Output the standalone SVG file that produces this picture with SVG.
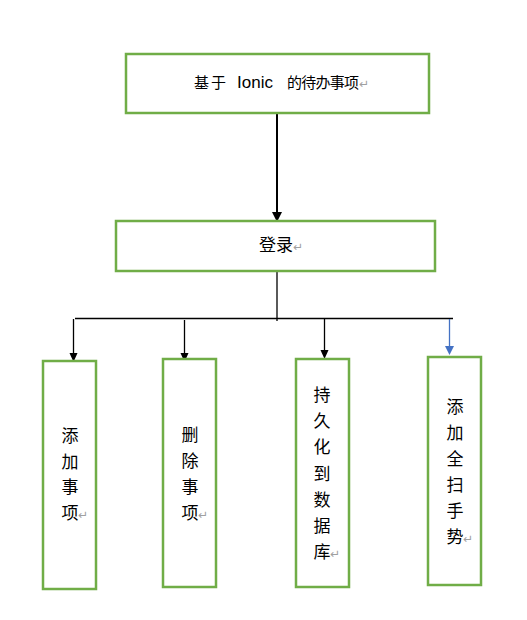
<svg xmlns="http://www.w3.org/2000/svg" width="527" height="620" viewBox="0 0 527 620">
<style>
.box{fill:#fff;stroke:#70AD47;stroke-width:2.5}
.t{font-family:"Noto Sans CJK SC","Liberation Sans",sans-serif;fill:#000}
.v{font-size:17px;text-anchor:middle}
.ret{font-family:"DejaVu Sans",sans-serif;font-size:12px;fill:#a0a0a0}
.ln{stroke:#000;stroke-width:1.3;fill:none}
</style>
<rect width="527" height="620" fill="#fff"/>
<g id="connectors">
<line class="ln" x1="277" y1="113" x2="277" y2="213" style="stroke-width:2"/>
<path d="M272,212 L282,212 L277,222 Z" fill="#000"/>
<line class="ln" x1="277" y1="271" x2="277" y2="321"/>
<line class="ln" x1="75" y1="318.5" x2="453" y2="318.5"/>
<line class="ln" x1="73.5" y1="319" x2="73.5" y2="354"/>
<path d="M69.5,353 L77.5,353 L73.5,362 Z" fill="#000"/>
<line class="ln" x1="184.5" y1="320" x2="184.5" y2="354"/>
<path d="M180.5,353 L188.5,353 L184.5,362 Z" fill="#000"/>
<line class="ln" x1="324.5" y1="319" x2="324.5" y2="351"/>
<path d="M320.5,350 L328.5,350 L324.5,359 Z" fill="#000"/>
<line x1="449.5" y1="319" x2="449.5" y2="347" stroke="#4472C4" stroke-width="1.3"/>
<path d="M445,346 L454,346 L449.5,355 Z" fill="#4472C4"/>
</g>
<g id="n-top">
<rect class="box" x="126" y="54" width="303" height="59"/>
<text class="t" y="88" font-size="15"><tspan x="194" textLength="32">基于</tspan><tspan x="237" font-family="Liberation Sans" font-size="17">Ionic</tspan><tspan x="287" textLength="72">的待办事项</tspan></text>
<text class="ret" x="359" y="88">↵</text>
</g>
<g id="n-login">
<rect class="box" x="116" y="221" width="319" height="50"/>
<text class="t" x="259" y="251" font-size="17">登录</text>
<text class="ret" x="293" y="251">↵</text>
</g>
<g id="n-add">
<rect class="box" x="43" y="361" width="53" height="228"/>
<text class="t v"><tspan x="70" y="442">添</tspan><tspan x="70" y="468">加</tspan><tspan x="70" y="493">事</tspan><tspan x="70" y="519">项</tspan></text>
<text class="ret" x="78" y="519">↵</text>
</g>
<g id="n-del">
<rect class="box" x="163" y="359" width="53" height="228"/>
<text class="t v"><tspan x="190" y="441">删</tspan><tspan x="190" y="467">除</tspan><tspan x="190" y="493">事</tspan><tspan x="190" y="519">项</tspan></text>
<text class="ret" x="198" y="519">↵</text>
</g>
<g id="n-persist">
<rect class="box" x="296" y="359" width="53" height="228"/>
<text class="t v"><tspan x="322" y="401">持</tspan><tspan x="322" y="427">久</tspan><tspan x="322" y="453">化</tspan><tspan x="322" y="480">到</tspan><tspan x="322" y="506">数</tspan><tspan x="322" y="532">据</tspan><tspan x="322" y="558">库</tspan></text>
<text class="ret" x="330" y="558">↵</text>
</g>
<g id="n-swipe">
<rect class="box" x="428" y="357" width="53" height="228"/>
<text class="t v"><tspan x="455" y="413">添</tspan><tspan x="455" y="439">加</tspan><tspan x="455" y="465">全</tspan><tspan x="455" y="491">扫</tspan><tspan x="455" y="517">手</tspan><tspan x="455" y="543">势</tspan></text>
<text class="ret" x="463" y="543">↵</text>
</g>
</svg>
